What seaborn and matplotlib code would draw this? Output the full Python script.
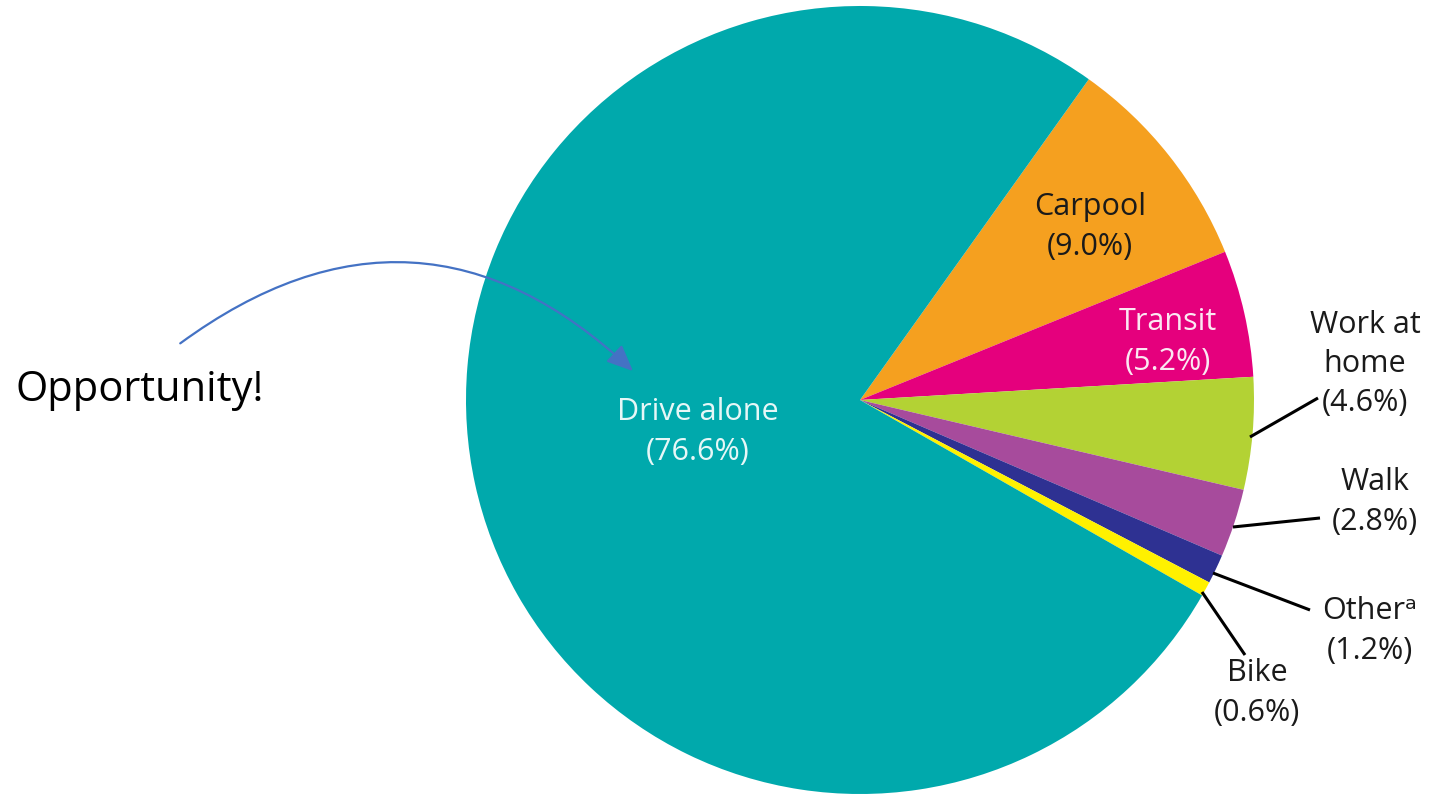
import matplotlib
matplotlib.use("Agg")
import matplotlib.pyplot as plt
import seaborn as sns
from matplotlib.patches import FancyArrowPatch

# data, clockwise from the top of Carpool
modes = ["Carpool", "Transit", "Work at\nhome", "Walk", "Other", "Bike", "Drive alone"]
shares = [9.0, 5.2, 4.6, 2.8, 1.2, 0.6, 76.6]
colors = ["#F5A01F", "#E5007D", "#B3D234", "#A74B9C", "#2E3192", "#FFF100", "#00A9AC"]

sns.set_theme(style="white")
plt.rcParams["font.family"] = ["Open Sans", "DejaVu Sans"]

fig = plt.figure(figsize=(14.32, 7.94), dpi=100)
ax = fig.add_axes([0, 0, 1, 1])

cx, cy, r = 860, 394, 394
ax.pie(shares, colors=sns.color_palette(colors), startangle=54.5, counterclock=False,
       center=(cx, cy), radius=r, frame=True,
       wedgeprops=dict(linewidth=0))
ax.set_xlim(0, 1432)
ax.set_ylim(0, 794)
ax.axis("off")

fs = 22
ls = 1.4
# labels inside slices
ax.text(1090, 567, f"{modes[0]}\n({shares[0]:.1f}%)", ha="center", va="center",
        fontsize=fs, color="#1a1a1a", linespacing=ls)
ax.text(1168, 452, f"{modes[1]}\n({shares[1]:.1f}%)", ha="center", va="center",
        fontsize=fs, color="#FBE8F2", linespacing=ls)
ax.text(698, 362, f"{modes[6]}\n({shares[6]:.1f}%)", ha="center", va="center",
        fontsize=fs, color="#E6F7F7", linespacing=ls)

# labels outside with leader lines
outside = [
    (2, (1365, 430), (1250, 357), (1318, 396)),
    (3, (1375, 292), (1233, 267), (1320, 276)),
    (4, (1370, 163), (1213, 221), (1310, 184)),
    (5, (1257, 101), (1202, 202), (1245, 139)),
]
for i, (tx, ty), p0, p1 in outside:
    lab = modes[i] + ("\u1d43" if modes[i] == "Other" else "")
    ax.text(tx, ty, f"{lab}\n({shares[i]:.1f}%)", ha="center", va="center",
            fontsize=fs, color="#1a1a1a", linespacing=ls)
    ax.plot([p0[0], p1[0]], [p0[1], p1[1]], color="black", lw=2.2, solid_capstyle="butt")

ax.text(15, 404, "Opportunity!", ha="left", va="center", fontsize=30, color="black")
arrow = FancyArrowPatch((178, 449), (635, 421), connectionstyle="arc3,rad=-0.42",
                        arrowstyle="-|>,head_length=16,head_width=7",
                        color="#4472C4", lw=1.6, mutation_scale=1)
ax.add_patch(arrow)

fig.savefig("out.png", dpi=100)
